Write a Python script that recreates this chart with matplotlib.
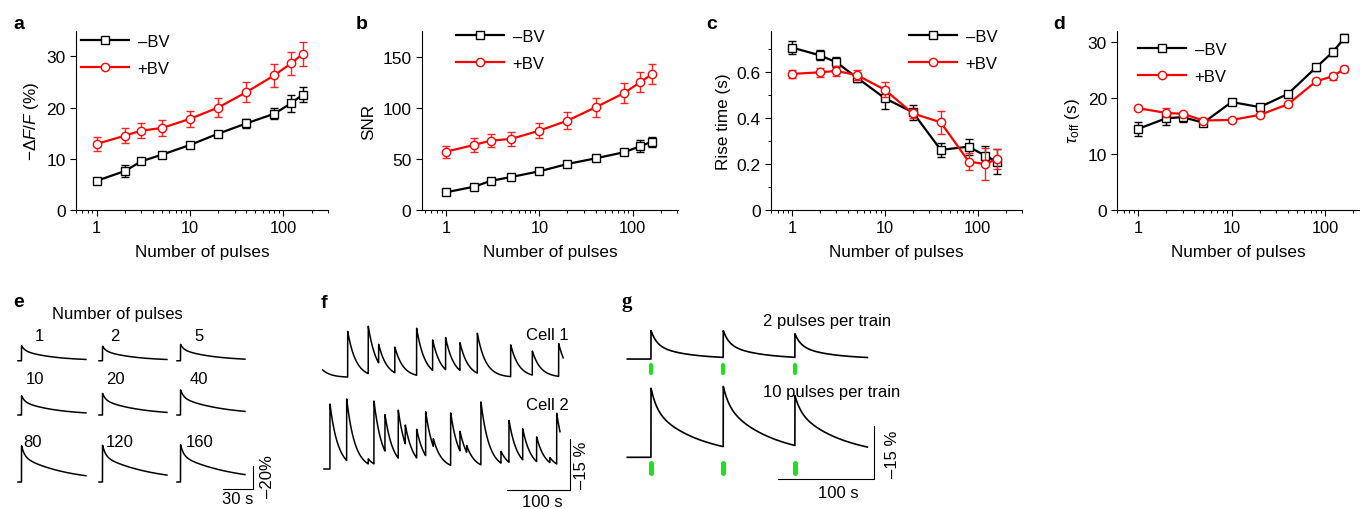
import numpy as np
import matplotlib
matplotlib.use("Agg")
import matplotlib.pyplot as plt
from matplotlib.ticker import MultipleLocator, FixedLocator, NullFormatter, FixedFormatter

plt.rcParams['font.family'] = ['Liberation Sans', 'DejaVu Sans']
plt.rcParams['mathtext.fontset'] = 'custom'
plt.rcParams['mathtext.rm'] = 'Liberation Sans'
plt.rcParams['mathtext.it'] = 'Liberation Sans:italic'
plt.rcParams['axes.linewidth'] = 0.8

# ---- panels a-d: summary vs number of pulses ----
pulses = [1, 2, 3, 5, 10, 20, 40, 80, 120, 160]

dff_minus = [5.7, 7.6, 9.5, 10.8, 12.7, 14.9, 16.9, 18.8, 20.8, 22.5]
dff_minus_err = [0.3, 1.2, 0.6, 0.4, 0.5, 0.5, 0.9, 1.1, 1.6, 1.5]
dff_plus = [12.9, 14.5, 15.5, 16.0, 17.8, 20.0, 23.0, 26.3, 28.6, 30.4]
dff_plus_err = [1.4, 1.5, 1.4, 1.5, 1.6, 1.8, 2.0, 2.2, 2.3, 2.3]

snr_minus = [17.3, 22.8, 28.4, 32.3, 37.8, 45.0, 50.5, 56.4, 62.3, 66.8]
snr_minus_err = [1.5, 2.5, 2.0, 2.0, 2.0, 2.0, 2.5, 3.0, 5.7, 5.0]
snr_plus = [57.0, 63.6, 67.8, 69.5, 77.6, 87.4, 100.4, 114.1, 124.9, 132.7]
snr_plus_err = [6.0, 6.5, 6.5, 6.5, 7.3, 8.3, 9.3, 9.6, 10.0, 10.0]

rise_minus = [0.708, 0.674, 0.644, 0.577, 0.487, 0.426, 0.262, 0.276, 0.237, 0.211]
rise_minus_err = [0.027, 0.022, 0.023, 0.020, 0.048, 0.032, 0.031, 0.035, 0.042, 0.053]
rise_plus = [0.593, 0.600, 0.606, 0.588, 0.524, 0.421, 0.382, 0.211, 0.200, 0.222]
rise_plus_err = [0.018, 0.020, 0.020, 0.022, 0.033, 0.020, 0.050, 0.038, 0.071, 0.044]

toff_minus = [14.5, 16.4, 16.6, 15.6, 19.3, 18.4, 20.75, 25.5, 28.2, 30.7]
toff_minus_err = [1.2, 1.2, 0.8, 0.6, 0.5, 0.5, 0.6, 0.6, 0.7, 0.7]
toff_plus = [18.2, 17.35, 17.2, 16.0, 16.1, 17.0, 18.9, 23.0, 23.9, 25.2]
toff_plus_err = [0.4, 0.8, 0.4, 0.4, 0.4, 0.4, 0.4, 0.5, 0.6, 0.6]

# ---- panel e: single traces for each pulse number (+BV) ----
e_pulses = [1, 2, 5, 10, 20, 40, 80, 120, 160]
e_amp = [12.9, 12.5, 14.0, 16.5, 18.5, 21.5, 31.0, 31.5, 32.0]
e_tau_slow = [30, 30, 32, 34, 36, 40, 45, 48, 50]

# ---- panel f: spontaneous spikes in two cells ----
cell1_t = [-6, 39.5, 72, 88.4, 114, 148.4, 173.7, 194.2, 216.9, 244.3, 297, 331.2, 372.8]
cell1_amp = [3.5, 13.5, 14.0, 5.5, 7.6, 13.9, 9.0, 9.5, 8.2, 11.8, 9.4, 7.1, 9.7]
cell2_t = [11.5, 37.9, 72, 81, 98.4, 119.4, 130.5, 148.5, 162.7, 174.8, 202.2, 216.9,
           227.5, 250, 281.7, 294.3, 316, 338, 359, 369.7]
cell2_amp = [19.2, 18.2, 1.5, 18.6, 10.8, 14.2, 5.6, 8.5, 13.0, 2.3, 15.5, 5.8,
             2.0, 18.6, 3.5, 12.4, 9.2, 7.3, 1.5, 15.0]

# ---- panel g: repeated trains ----
train_t = [24.8, 100.3, 175.2]
g2_amp = [8.0, 7.5, 6.6]
g10_amp = [19.4, 16.9, 14.0]

W, H = 1360, 510
fig = plt.figure(figsize=(13.6, 5.1), dpi=100)


def px_axes(x0, y0, x1, y1):
    return fig.add_axes([x0 / W, 1 - y1 / H, (x1 - x0) / W, (y1 - y0) / H])


def px_text(x, y, s, **kw):
    fig.text(x / W, 1 - y / H, s, **kw)


def response(t, onsets, amps, tau_fast, tau_slow, frac_fast):
    y = np.zeros_like(t)
    for t0, a in zip(onsets, amps):
        dt = np.clip(t - t0, 0, None)
        k = frac_fast * np.exp(-dt / tau_fast) + (1 - frac_fast) * np.exp(-dt / tau_slow)
        y += np.where(t >= t0, a * k, 0.0)
    return y


def summary_panel(box, ym, em, yp, ep, xlim, ylim, yticks, ylabel, leg_xy):
    ax = px_axes(*box)
    ax.errorbar(pulses, ym, yerr=em, fmt='none', ecolor='black', elinewidth=1,
                capsize=2.6, capthick=1, zorder=2)
    ax.plot(pulses, ym, '-s', color='black', mfc='white', mec='black', ms=5.5,
            mew=1, lw=1.6, label='\u2013BV', zorder=3)
    ax.errorbar(pulses, yp, yerr=ep, fmt='none', ecolor='#ff2020', elinewidth=1,
                capsize=2.6, capthick=1, zorder=4)
    ax.plot(pulses, yp, '-o', color='#ff0000', mfc='white', mec='#ff0000', ms=6,
            mew=1, lw=1.6, label='+BV', zorder=5)
    ax.set_xscale('log')
    ax.set_xlim(*xlim)
    ax.set_ylim(*ylim)
    ax.xaxis.set_major_locator(FixedLocator([1, 10, 100]))
    ax.xaxis.set_major_formatter(FixedFormatter(['1', '10', '100']))
    ax.xaxis.set_minor_formatter(NullFormatter())
    ax.set_yticks(yticks)
    for s in ('top', 'right'):
        ax.spines[s].set_visible(False)
    ax.tick_params(which='major', direction='out', length=4, width=0.8)
    ax.tick_params(axis='y', labelsize=12.5)
    ax.tick_params(axis='x', labelsize=11.8)
    ax.tick_params(which='minor', direction='out', length=2.3, width=0.7)
    ax.set_xlabel('Number of pulses', fontsize=12.3, labelpad=6)
    ax.set_ylabel(ylabel, fontsize=12.3, labelpad=4)
    ax.legend(loc='upper left', bbox_to_anchor=leg_xy, frameon=False, fontsize=12,
              handlelength=2.9, handletextpad=0.5, labelspacing=0.72,
              borderaxespad=0, borderpad=0)
    return ax


summary_panel((76, 31.7, 328, 211), dff_minus, dff_minus_err, dff_plus, dff_plus_err,
              (0.6, 300), (0, 35), [0, 10, 20, 30], r'$-\Delta F/F$ (%)', (0.02, 0.983))
summary_panel((421.7, 32, 678, 211), snr_minus, snr_minus_err, snr_plus, snr_plus_err,
              (0.55, 305), (0, 175), [0, 50, 100, 150], 'SNR', (0.134, 1.01))
ax_c = summary_panel((771, 32, 1022, 211), rise_minus, rise_minus_err, rise_plus, rise_plus_err,
                     (0.595, 300), (0, 0.78), [0, 0.2, 0.4, 0.6], 'Rise time (s)', (0.55, 1.01))
ax_c.set_yticklabels(['0', '0.2', '0.4', '0.6'])
ax_c.yaxis.set_minor_locator(MultipleLocator(0.1))
summary_panel((1117.3, 32, 1360, 211), toff_minus, toff_minus_err, toff_plus, toff_plus_err,
              (0.6, 235.7), (0, 32), [0, 10, 20, 30], r'$\tau_{\mathrm{off}}$ (s)', (0.085, 0.938))

# panel letters
for x, y, s in [(13, 29.3, 'a'), (356, 29.3, 'b'), (706, 29.3, 'c'), (1053, 29.3, 'd'),
                (13, 306.7, 'e'), (321, 308.3, 'f')]:
    px_text(x, y, s, fontsize=14, fontweight='bold', va='baseline')
px_text(622, 306.7, 'g', fontsize=15, fontweight='bold', va='baseline',
        family='Liberation Serif')

# ---- panel e ----
ax_e = px_axes(8, 322, 290, 505)
ax_e.set_xlim((8 - 18) / 1.02, (290 - 18) / 1.02)
ax_e.set_ylim((483 - 505) / 1.167, (483 - 322) / 1.167)
ax_e.axis('off')
col_dx = [0, 79.4, 155.9]
row_dy = [103.9, 57.4, 0]
label_dx = [20.6, 15.7, 21.6, 16.7, 15.7, 21.6, 14.7, 20.6, 22.5]
label_dy = [22, 22, 22, 31, 31, 31, 35, 35, 35]
te = np.arange(0, 66.7, 0.1)
for i, (n, a, ts) in enumerate(zip(e_pulses, e_amp, e_tau_slow)):
    r, c = divmod(i, 3)
    y = response(te, [3.5], [a], 3.0, ts, 0.3)
    ax_e.plot(te + col_dx[c], y + row_dy[r], color='black', lw=1.1)
    ax_e.text(col_dx[c] + label_dx[i], row_dy[r] + label_dy[i], str(n), fontsize=12,
              ha='center', va='center')
ax_e.plot([200.7, 230.7, 230.7], [-6, -6, 14], color='black', lw=0.8)
px_text(117.5, 314, 'Number of pulses', fontsize=12, ha='center', va='center')
px_text(238, 500, '30 s', fontsize=12, ha='center', va='center')
px_text(267, 477, '\u201320%', fontsize=12, ha='center', va='center', rotation=90)

# ---- panel f ----
ax_f = px_axes(318, 318, 600, 500)
ax_f.set_xlim((318 - 322.7) / 0.633, (600 - 322.7) / 0.633)
ax_f.set_ylim((470 - 500) / 3.38, (470 - 318) / 3.38)
ax_f.axis('off')
t1 = np.arange(0, 380, 0.1)
t2 = np.arange(2, 375, 0.1)
ax_f.plot(t1, response(t1, cell1_t, cell1_amp, 3.0, 13.0, 0.0) + 27.1, color='black', lw=1.1)
ax_f.plot(t2, response(t2, cell2_t, cell2_amp, 3.0, 13.0, 0.0), color='black', lw=1.1)
ax_f.plot([290.7, 390.7, 390.7], [-6.1, -6.1, 8.9], color='black', lw=0.8)
px_text(547, 336, 'Cell 1', fontsize=12, ha='center', va='center')
px_text(547.5, 405.8, 'Cell 2', fontsize=12, ha='center', va='center')
px_text(542, 503, '100 s', fontsize=12, ha='center', va='center')
px_text(582, 465, '\u201315 %', fontsize=12, ha='center', va='center', rotation=90)

# ---- panel g ----
ax_g = px_axes(620, 318, 905, 500)
ax_g.set_xlim((620 - 627.3) / 0.957, (905 - 627.3) / 0.957)
ax_g.set_ylim((458.3 - 500) / 3.56, (458.3 - 318) / 3.56)
ax_g.axis('off')
tg = np.arange(0, 251, 0.1)
ax_g.plot(tg, response(tg, train_t, g2_amp, 6.0, 35.0, 0.5) + 27.6, color='black', lw=1.2)
ax_g.plot(tg, response(tg, train_t, g10_amp, 6.0, 50.0, 0.3), color='black', lw=1.2)
for t0 in train_t:
    ax_g.plot([t0, t0], [27.6 - 1.6, 27.6 - 4.0], color='#1ee01e', lw=3.0,
              solid_capstyle='round')
    ax_g.plot([t0, t0], [-1.5, -4.3], color='#1ee01e', lw=3.6, solid_capstyle='round')
ax_g.plot([157.8, 257.8, 257.8], [-6.1, -6.1, 8.9], color='black', lw=0.8)
px_text(763.3, 321.7, '2 pulses per train', fontsize=12, ha='left', va='center')
px_text(763.3, 392.3, '10 pulses per train', fontsize=12, ha='left', va='center')
px_text(838, 493.3, '100 s', fontsize=12, ha='center', va='center')
px_text(892.5, 454, '\u201315 %', fontsize=12, ha='center', va='center', rotation=90)

fig.savefig('out.png', dpi=100)
